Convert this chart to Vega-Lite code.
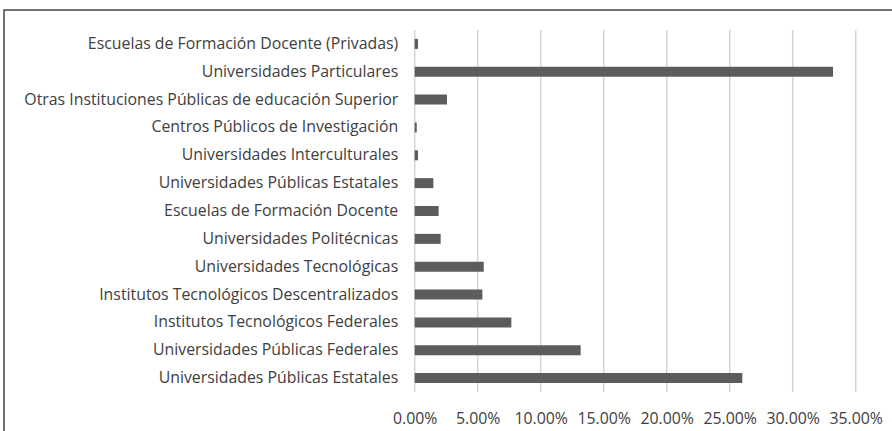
{
  "$schema": "https://vega.github.io/schema/vega-lite/v6.json",
  "width": 892,
  "height": 425,
  "autosize": {"type": "none"},
  "padding": {"left": 4, "top": 10, "right": -4, "bottom": -4},
  "background": "white",
  "config": {
    "view": {"stroke": "#454545", "strokeWidth": 1.5},
    "font": "Open Sans",
    "axis": {"labelFont": "Open Sans", "labelFontSize": 15.85, "labelColor": "#404040"}
  },
  "datasets": {
    "bars": [
      {"id": "01|Escuelas de Formación Docente (Privadas)", "valor": 0.0026},
      {"id": "02|Universidades Particulares", "valor": 0.332},
      {"id": "03|Otras Instituciones Públicas de educación Superior", "valor": 0.0256},
      {"id": "04|Centros Públicos de Investigación", "valor": 0.0016},
      {"id": "05|Universidades Interculturales", "valor": 0.0026},
      {"id": "06|Universidades Públicas Estatales", "valor": 0.0148},
      {"id": "07|Escuelas de Formación Docente", "valor": 0.019},
      {"id": "08|Universidades Politécnicas", "valor": 0.0206},
      {"id": "09|Universidades Tecnológicas", "valor": 0.0548},
      {"id": "10|Institutos Tecnológicos Descentralizados", "valor": 0.0537},
      {"id": "11|Institutos Tecnológicos Federales", "valor": 0.0767},
      {"id": "12|Universidades Públicas Federales", "valor": 0.1317},
      {"id": "13|Universidades Públicas Estatales", "valor": 0.26}
    ],
    "grid": [
      {"t": 0}, {"t": 0.05}, {"t": 0.1}, {"t": 0.15}, {"t": 0.2}, {"t": 0.25}, {"t": 0.3}, {"t": 0.35}
    ]
  },
  "layer": [
    {
      "data": {"name": "grid"},
      "mark": {"type": "rule", "color": "#d4d4d4", "strokeWidth": 1.5},
      "encoding": {
        "x": {"field": "t", "type": "quantitative"},
        "y": {"datum": "01|Escuelas de Formación Docente (Privadas)", "type": "nominal", "bandPosition": -0.89},
        "y2": {"datum": "13|Universidades Públicas Estatales", "bandPosition": 1.896}
      }
    },
    {
      "data": {"name": "bars"},
      "mark": {"type": "bar", "color": "#5c5c5c"},
      "encoding": {
        "y": {
          "field": "id",
          "type": "nominal",
          "sort": null,
          "scale": {
            "type": "band",
            "domain": [
              "01|Escuelas de Formación Docente (Privadas)",
              "02|Universidades Particulares",
              "03|Otras Instituciones Públicas de educación Superior",
              "04|Centros Públicos de Investigación",
              "05|Universidades Interculturales",
              "06|Universidades Públicas Estatales",
              "07|Escuelas de Formación Docente",
              "08|Universidades Politécnicas",
              "09|Universidades Tecnológicas",
              "10|Institutos Tecnológicos Descentralizados",
              "11|Institutos Tecnológicos Federales",
              "12|Universidades Públicas Federales",
              "13|Universidades Públicas Estatales"
            ],
            "range": [20, 382],
            "paddingInner": 0.641, "paddingOuter": 0.3205
          },
          "axis": {
            "title": null,
            "orient": "left",
            "offset": -410.7,
            "domain": false,
            "ticks": false,
            "labelPadding": 17,
            "labelLimit": 500,
            "labelExpr": "split(datum.label, '|')[1]"
          }
        },
        "x": {
          "field": "valor",
          "type": "quantitative",
          "scale": {"domain": [-0.32595, 0.38198], "nice": false, "zero": false},
          "axis": {
            "title": null,
            "orient": "bottom",
            "offset": -43,
            "values": [0, 0.05, 0.1, 0.15, 0.2, 0.25, 0.3, 0.35],
            "format": ".2%",
            "domain": false,
            "ticks": false,
            "grid": false,
            "labelPadding": 18,
            "labelFlush": false,
            "labelOverlap": false
          }
        },
        "x2": {"datum": 0}
      }
    }
  ]
}
